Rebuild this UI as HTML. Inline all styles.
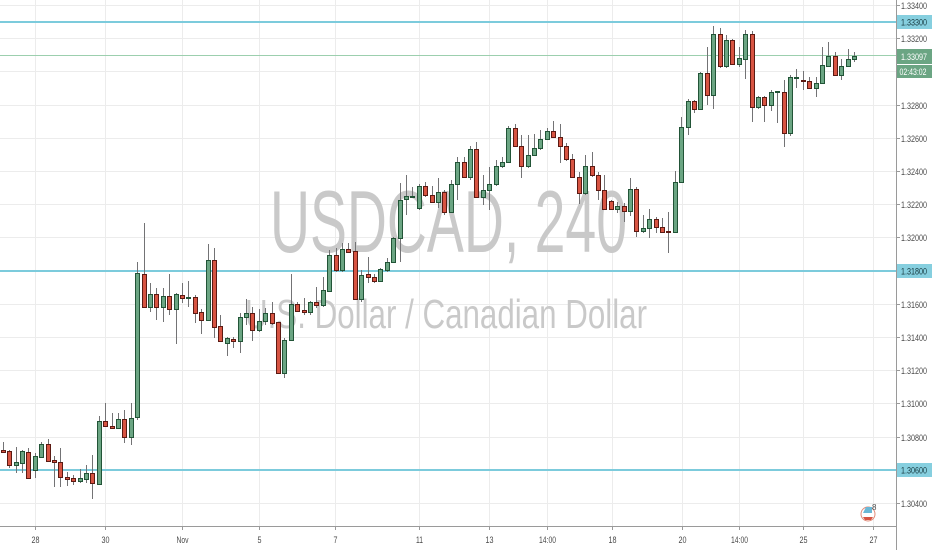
<!DOCTYPE html>
<html><head><meta charset="utf-8"><style>
html,body{margin:0;padding:0;background:#fff;}
svg{display:block;}
.pl{font-family:"Liberation Sans",sans-serif;font-size:9.5px;fill:#4a4a4a;}
.bl{font-family:"Liberation Sans",sans-serif;font-size:9.5px;fill:#4a4a4a;}
</style></head><body>
<svg width="932" height="550" viewBox="0 0 932 550" xmlns="http://www.w3.org/2000/svg">
<rect width="932" height="550" fill="#fff"/>
<g stroke="#ececec" stroke-width="1">
<line x1="0" x2="896" y1="5.5" y2="5.5"/><line x1="0" x2="896" y1="38.5" y2="38.5"/><line x1="0" x2="896" y1="71.5" y2="71.5"/><line x1="0" x2="896" y1="105.5" y2="105.5"/><line x1="0" x2="896" y1="138.5" y2="138.5"/><line x1="0" x2="896" y1="171.5" y2="171.5"/><line x1="0" x2="896" y1="204.5" y2="204.5"/><line x1="0" x2="896" y1="237.5" y2="237.5"/><line x1="0" x2="896" y1="271.5" y2="271.5"/><line x1="0" x2="896" y1="304.5" y2="304.5"/><line x1="0" x2="896" y1="337.5" y2="337.5"/><line x1="0" x2="896" y1="370.5" y2="370.5"/><line x1="0" x2="896" y1="403.5" y2="403.5"/><line x1="0" x2="896" y1="437.5" y2="437.5"/><line x1="0" x2="896" y1="470.5" y2="470.5"/><line x1="0" x2="896" y1="503.5" y2="503.5"/>
<line y1="0" y2="526" x1="35.5" x2="35.5"/><line y1="0" y2="526" x1="105.5" x2="105.5"/><line y1="0" y2="526" x1="182.5" x2="182.5"/><line y1="0" y2="526" x1="259.5" x2="259.5"/><line y1="0" y2="526" x1="335.5" x2="335.5"/><line y1="0" y2="526" x1="419.5" x2="419.5"/><line y1="0" y2="526" x1="489.5" x2="489.5"/><line y1="0" y2="526" x1="547.5" x2="547.5"/><line y1="0" y2="526" x1="612.5" x2="612.5"/><line y1="0" y2="526" x1="682.5" x2="682.5"/><line y1="0" y2="526" x1="739.5" x2="739.5"/><line y1="0" y2="526" x1="803.5" x2="803.5"/><line y1="0" y2="526" x1="873.5" x2="873.5"/>
</g>
<g font-family="Liberation Sans, sans-serif" fill="#c9c9c9">
<text x="270" y="252" font-size="88" textLength="357" lengthAdjust="spacingAndGlyphs">USDCAD, 240</text>
<text x="245" y="328" font-size="41" textLength="402" lengthAdjust="spacingAndGlyphs">U.S. Dollar / Canadian Dollar</text>
</g>
<line x1="0" x2="896" y1="55.5" y2="55.5" stroke="#9ccfae" stroke-width="1"/>
<g stroke="#7ccbdc" stroke-width="2">
<line x1="0" x2="896" y1="22" y2="22"/>
<line x1="0" x2="896" y1="271" y2="271"/>
<line x1="0" x2="896" y1="470" y2="470"/>
</g>
<g id="candles" stroke-width="1">
<g stroke="#737375">
<line x1="3.5" x2="3.5" y1="442" y2="453"/><line x1="9.5" x2="9.5" y1="450" y2="468"/><line x1="16.5" x2="16.5" y1="447" y2="473"/><line x1="22.5" x2="22.5" y1="450" y2="473"/><line x1="28.5" x2="28.5" y1="448" y2="478"/><line x1="35.5" x2="35.5" y1="453" y2="478"/><line x1="41.5" x2="41.5" y1="442" y2="458"/><line x1="48.5" x2="48.5" y1="439" y2="462"/><line x1="54.5" x2="54.5" y1="456" y2="487"/><line x1="60.5" x2="60.5" y1="448" y2="487"/><line x1="67.5" x2="67.5" y1="472" y2="486"/><line x1="73.5" x2="73.5" y1="475" y2="485"/><line x1="80.5" x2="80.5" y1="469" y2="483"/><line x1="86.5" x2="86.5" y1="465" y2="483"/><line x1="92.5" x2="92.5" y1="455" y2="499"/><line x1="99.5" x2="99.5" y1="416" y2="484"/><line x1="105.5" x2="105.5" y1="403" y2="427"/><line x1="112.5" x2="112.5" y1="413" y2="428"/><line x1="118.5" x2="118.5" y1="413" y2="429"/><line x1="124.5" x2="124.5" y1="410" y2="443"/><line x1="131.5" x2="131.5" y1="403" y2="445"/><line x1="137.5" x2="137.5" y1="262" y2="420"/><line x1="144.5" x2="144.5" y1="223" y2="307"/><line x1="150.5" x2="150.5" y1="283" y2="312"/><line x1="156.5" x2="156.5" y1="288" y2="320"/><line x1="163.5" x2="163.5" y1="288" y2="322"/><line x1="169.5" x2="169.5" y1="274" y2="315"/><line x1="176.5" x2="176.5" y1="293" y2="344"/><line x1="182.5" x2="182.5" y1="283" y2="303"/><line x1="188.5" x2="188.5" y1="281" y2="307"/><line x1="195.5" x2="195.5" y1="295" y2="323"/><line x1="201.5" x2="201.5" y1="309" y2="334"/><line x1="208.5" x2="208.5" y1="244" y2="320"/><line x1="214.5" x2="214.5" y1="248" y2="338"/><line x1="220.5" x2="220.5" y1="315" y2="341"/><line x1="227.5" x2="227.5" y1="337" y2="356"/><line x1="233.5" x2="233.5" y1="337" y2="348"/><line x1="240.5" x2="240.5" y1="313" y2="353"/><line x1="246.5" x2="246.5" y1="299" y2="325"/><line x1="252.5" x2="252.5" y1="307" y2="341"/><line x1="259.5" x2="259.5" y1="309" y2="332"/><line x1="265.5" x2="265.5" y1="308" y2="325"/><line x1="272.5" x2="272.5" y1="302" y2="325"/><line x1="278.5" x2="278.5" y1="322" y2="373"/><line x1="284.5" x2="284.5" y1="338" y2="378"/><line x1="291.5" x2="291.5" y1="274" y2="340"/><line x1="297.5" x2="297.5" y1="302" y2="312"/><line x1="304.5" x2="304.5" y1="298" y2="315"/><line x1="310.5" x2="310.5" y1="301" y2="315"/><line x1="316.5" x2="316.5" y1="287" y2="308"/><line x1="323.5" x2="323.5" y1="277" y2="307"/><line x1="329.5" x2="329.5" y1="250" y2="291"/><line x1="336.5" x2="336.5" y1="248" y2="272"/><line x1="342.5" x2="342.5" y1="243" y2="272"/><line x1="348.5" x2="348.5" y1="243" y2="253"/><line x1="355.5" x2="355.5" y1="242" y2="299"/><line x1="361.5" x2="361.5" y1="270" y2="302"/><line x1="368.5" x2="368.5" y1="257" y2="283"/><line x1="374.5" x2="374.5" y1="274" y2="283"/><line x1="380.5" x2="380.5" y1="268" y2="282"/><line x1="387.5" x2="387.5" y1="258" y2="272"/><line x1="393.5" x2="393.5" y1="237" y2="263"/><line x1="400.5" x2="400.5" y1="183" y2="262"/><line x1="406.5" x2="406.5" y1="175" y2="215"/><line x1="412.5" x2="412.5" y1="187" y2="198"/><line x1="419.5" x2="419.5" y1="184" y2="210"/><line x1="425.5" x2="425.5" y1="182" y2="197"/><line x1="432.5" x2="432.5" y1="186" y2="203"/><line x1="438.5" x2="438.5" y1="178" y2="208"/><line x1="444.5" x2="444.5" y1="190" y2="215"/><line x1="451.5" x2="451.5" y1="180" y2="213"/><line x1="457.5" x2="457.5" y1="157" y2="200"/><line x1="464.5" x2="464.5" y1="157" y2="178"/><line x1="470.5" x2="470.5" y1="146" y2="180"/><line x1="476.5" x2="476.5" y1="142" y2="197"/><line x1="483.5" x2="483.5" y1="175" y2="205"/><line x1="489.5" x2="489.5" y1="167" y2="210"/><line x1="496.5" x2="496.5" y1="160" y2="186"/><line x1="502.5" x2="502.5" y1="157" y2="168"/><line x1="508.5" x2="508.5" y1="126" y2="163"/><line x1="515.5" x2="515.5" y1="124" y2="147"/><line x1="521.5" x2="521.5" y1="135" y2="178"/><line x1="528.5" x2="528.5" y1="135" y2="168"/><line x1="534.5" x2="534.5" y1="134" y2="156"/><line x1="540.5" x2="540.5" y1="130" y2="150"/><line x1="547.5" x2="547.5" y1="128" y2="140"/><line x1="553.5" x2="553.5" y1="121" y2="138"/><line x1="560.5" x2="560.5" y1="124" y2="163"/><line x1="566.5" x2="566.5" y1="143" y2="161"/><line x1="572.5" x2="572.5" y1="154" y2="178"/><line x1="579.5" x2="579.5" y1="172" y2="204"/><line x1="585.5" x2="585.5" y1="155" y2="195"/><line x1="592.5" x2="592.5" y1="152" y2="177"/><line x1="598.5" x2="598.5" y1="172" y2="200"/><line x1="604.5" x2="604.5" y1="175" y2="210"/><line x1="611.5" x2="611.5" y1="200" y2="210"/><line x1="617.5" x2="617.5" y1="202" y2="213"/><line x1="624.5" x2="624.5" y1="203" y2="222"/><line x1="630.5" x2="630.5" y1="178" y2="216"/><line x1="636.5" x2="636.5" y1="187" y2="237"/><line x1="643.5" x2="643.5" y1="215" y2="233"/><line x1="649.5" x2="649.5" y1="209" y2="238"/><line x1="656.5" x2="656.5" y1="217" y2="233"/><line x1="662.5" x2="662.5" y1="218" y2="233"/><line x1="668.5" x2="668.5" y1="212" y2="253"/><line x1="675.5" x2="675.5" y1="171" y2="233"/><line x1="681.5" x2="681.5" y1="117" y2="182"/><line x1="688.5" x2="688.5" y1="99" y2="135"/><line x1="694.5" x2="694.5" y1="100" y2="113"/><line x1="700.5" x2="700.5" y1="72" y2="110"/><line x1="707.5" x2="707.5" y1="47" y2="105"/><line x1="713.5" x2="713.5" y1="26" y2="109"/><line x1="720.5" x2="720.5" y1="28" y2="68"/><line x1="726.5" x2="726.5" y1="35" y2="68"/><line x1="732.5" x2="732.5" y1="39" y2="65"/><line x1="739.5" x2="739.5" y1="47" y2="67"/><line x1="745.5" x2="745.5" y1="30" y2="79"/><line x1="752.5" x2="752.5" y1="31" y2="122"/><line x1="758.5" x2="758.5" y1="96" y2="109"/><line x1="764.5" x2="764.5" y1="96" y2="122"/><line x1="771.5" x2="771.5" y1="90" y2="111"/><line x1="777.5" x2="777.5" y1="91" y2="123"/><line x1="784.5" x2="784.5" y1="80" y2="147"/><line x1="790.5" x2="790.5" y1="75" y2="136"/><line x1="796.5" x2="796.5" y1="69" y2="88"/><line x1="803.5" x2="803.5" y1="71" y2="90"/><line x1="809.5" x2="809.5" y1="77" y2="89"/><line x1="816.5" x2="816.5" y1="77" y2="97"/><line x1="822.5" x2="822.5" y1="47" y2="84"/><line x1="828.5" x2="828.5" y1="42" y2="67"/><line x1="835.5" x2="835.5" y1="52" y2="76"/><line x1="841.5" x2="841.5" y1="59" y2="80"/><line x1="848.5" x2="848.5" y1="49" y2="67"/><line x1="854.5" x2="854.5" y1="52" y2="62"/>
</g>
<g fill="#d75442" stroke="#5b1a13">
<rect x="1.5" y="450.5" width="4" height="2"/><rect x="7.5" y="451.5" width="4" height="14"/><rect x="26.5" y="452.5" width="4" height="26"/><rect x="46.5" y="444.5" width="4" height="17"/><rect x="52.5" y="460.5" width="4" height="2"/><rect x="58.5" y="462.5" width="4" height="15"/><rect x="65.5" y="477.5" width="4" height="2"/><rect x="71.5" y="478.5" width="4" height="3"/><rect x="90.5" y="473.5" width="4" height="10"/><rect x="103.5" y="421.5" width="4" height="5"/><rect x="110.5" y="426.5" width="4" height="2"/><rect x="122.5" y="419.5" width="4" height="18"/><rect x="142.5" y="274.5" width="4" height="33"/><rect x="154.5" y="294.5" width="4" height="13"/><rect x="167.5" y="296.5" width="4" height="13"/><rect x="180.5" y="295.5" width="4" height="3"/><rect x="193.5" y="297.5" width="4" height="16"/><rect x="199.5" y="312.5" width="4" height="8"/><rect x="212.5" y="260.5" width="4" height="67"/><rect x="218.5" y="326.5" width="4" height="15"/><rect x="231.5" y="339.5" width="4" height="2"/><rect x="250.5" y="313.5" width="4" height="17"/><rect x="270.5" y="313.5" width="4" height="10"/><rect x="276.5" y="322.5" width="4" height="51"/><rect x="295.5" y="304.5" width="4" height="7"/><rect x="302.5" y="310.5" width="4" height="2"/><rect x="314.5" y="302.5" width="4" height="3"/><rect x="334.5" y="255.5" width="4" height="15"/><rect x="346.5" y="249.5" width="4" height="3"/><rect x="353.5" y="251.5" width="4" height="48"/><rect x="366.5" y="274.5" width="4" height="3"/><rect x="372.5" y="277.5" width="4" height="4"/><rect x="423.5" y="186.5" width="4" height="9"/><rect x="430.5" y="195.5" width="4" height="7"/><rect x="442.5" y="192.5" width="4" height="20"/><rect x="462.5" y="162.5" width="4" height="15"/><rect x="474.5" y="149.5" width="4" height="48"/><rect x="513.5" y="128.5" width="4" height="18"/><rect x="519.5" y="146.5" width="4" height="20"/><rect x="551.5" y="131.5" width="4" height="6"/><rect x="558.5" y="137.5" width="4" height="9"/><rect x="564.5" y="146.5" width="4" height="13"/><rect x="570.5" y="159.5" width="4" height="18"/><rect x="577.5" y="177.5" width="4" height="16"/><rect x="590.5" y="166.5" width="4" height="9"/><rect x="596.5" y="175.5" width="4" height="15"/><rect x="602.5" y="190.5" width="4" height="19"/><rect x="609.5" y="201.5" width="4" height="8"/><rect x="622.5" y="206.5" width="4" height="5"/><rect x="634.5" y="189.5" width="4" height="42"/><rect x="654.5" y="219.5" width="4" height="8"/><rect x="660.5" y="227.5" width="4" height="5"/><rect x="666.5" y="231.5" width="4" height="1"/><rect x="692.5" y="101.5" width="4" height="8"/><rect x="705.5" y="73.5" width="4" height="22"/><rect x="718.5" y="34.5" width="4" height="32"/><rect x="730.5" y="40.5" width="4" height="24"/><rect x="750.5" y="34.5" width="4" height="73"/><rect x="762.5" y="97.5" width="4" height="8"/><rect x="782.5" y="92.5" width="4" height="41"/><rect x="801.5" y="80.5" width="4" height="1"/><rect x="807.5" y="81.5" width="4" height="7"/><rect x="833.5" y="56.5" width="4" height="19"/>
</g>
<g fill="#6ba583" stroke="#225437">
<rect x="14.5" y="462.5" width="4" height="3"/><rect x="20.5" y="451.5" width="4" height="12"/><rect x="33.5" y="456.5" width="4" height="14"/><rect x="39.5" y="444.5" width="4" height="13"/><rect x="78.5" y="478.5" width="4" height="3"/><rect x="84.5" y="473.5" width="4" height="6"/><rect x="97.5" y="421.5" width="4" height="63"/><rect x="116.5" y="419.5" width="4" height="9"/><rect x="129.5" y="418.5" width="4" height="19"/><rect x="135.5" y="273.5" width="4" height="144"/><rect x="148.5" y="294.5" width="4" height="13"/><rect x="161.5" y="296.5" width="4" height="11"/><rect x="174.5" y="294.5" width="4" height="15"/><rect x="186.5" y="297.5" width="4" height="1"/><rect x="206.5" y="260.5" width="4" height="60"/><rect x="225.5" y="338.5" width="4" height="5"/><rect x="238.5" y="317.5" width="4" height="24"/><rect x="244.5" y="313.5" width="4" height="4"/><rect x="257.5" y="321.5" width="4" height="9"/><rect x="263.5" y="313.5" width="4" height="8"/><rect x="282.5" y="340.5" width="4" height="33"/><rect x="289.5" y="304.5" width="4" height="36"/><rect x="308.5" y="302.5" width="4" height="10"/><rect x="321.5" y="290.5" width="4" height="15"/><rect x="327.5" y="255.5" width="4" height="36"/><rect x="340.5" y="249.5" width="4" height="21"/><rect x="359.5" y="275.5" width="4" height="24"/><rect x="378.5" y="269.5" width="4" height="12"/><rect x="385.5" y="262.5" width="4" height="8"/><rect x="391.5" y="238.5" width="4" height="24"/><rect x="398.5" y="200.5" width="4" height="38"/><rect x="404.5" y="196.5" width="4" height="3"/><rect x="410.5" y="196.5" width="4" height="1"/><rect x="417.5" y="186.5" width="4" height="22"/><rect x="436.5" y="192.5" width="4" height="10"/><rect x="449.5" y="184.5" width="4" height="28"/><rect x="455.5" y="162.5" width="4" height="22"/><rect x="468.5" y="149.5" width="4" height="28"/><rect x="481.5" y="190.5" width="4" height="7"/><rect x="487.5" y="184.5" width="4" height="6"/><rect x="494.5" y="166.5" width="4" height="18"/><rect x="500.5" y="162.5" width="4" height="4"/><rect x="506.5" y="128.5" width="4" height="34"/><rect x="526.5" y="155.5" width="4" height="11"/><rect x="532.5" y="148.5" width="4" height="7"/><rect x="538.5" y="139.5" width="4" height="9"/><rect x="545.5" y="131.5" width="4" height="8"/><rect x="583.5" y="166.5" width="4" height="27"/><rect x="615.5" y="206.5" width="4" height="3"/><rect x="628.5" y="189.5" width="4" height="22"/><rect x="641.5" y="228.5" width="4" height="3"/><rect x="647.5" y="219.5" width="4" height="9"/><rect x="673.5" y="182.5" width="4" height="50"/><rect x="679.5" y="127.5" width="4" height="55"/><rect x="686.5" y="101.5" width="4" height="26"/><rect x="698.5" y="73.5" width="4" height="36"/><rect x="711.5" y="34.5" width="4" height="61"/><rect x="724.5" y="40.5" width="4" height="26"/><rect x="737.5" y="58.5" width="4" height="6"/><rect x="743.5" y="34.5" width="4" height="25"/><rect x="756.5" y="97.5" width="4" height="10"/><rect x="769.5" y="92.5" width="4" height="13"/><rect x="775.5" y="91.5" width="4" height="1"/><rect x="788.5" y="77.5" width="4" height="56"/><rect x="794.5" y="77.5" width="4" height="1"/><rect x="814.5" y="83.5" width="4" height="5"/><rect x="820.5" y="65.5" width="4" height="18"/><rect x="826.5" y="56.5" width="4" height="10"/><rect x="839.5" y="66.5" width="4" height="9"/><rect x="846.5" y="59.5" width="4" height="7"/><rect x="852.5" y="56.5" width="4" height="3"/>
</g>
</g>
<line x1="0" x2="896" y1="526.5" y2="526.5" stroke="#9a9a9a" stroke-width="1"/>
<line x1="896.5" x2="896.5" y1="0" y2="550" stroke="#9a9a9a" stroke-width="1"/>
<g stroke="#9a9a9a" stroke-width="1">
<line x1="896" x2="900" y1="5.5" y2="5.5"/><line x1="896" x2="900" y1="38.5" y2="38.5"/><line x1="896" x2="900" y1="105.5" y2="105.5"/><line x1="896" x2="900" y1="138.5" y2="138.5"/><line x1="896" x2="900" y1="171.5" y2="171.5"/><line x1="896" x2="900" y1="204.5" y2="204.5"/><line x1="896" x2="900" y1="237.5" y2="237.5"/><line x1="896" x2="900" y1="304.5" y2="304.5"/><line x1="896" x2="900" y1="337.5" y2="337.5"/><line x1="896" x2="900" y1="370.5" y2="370.5"/><line x1="896" x2="900" y1="403.5" y2="403.5"/><line x1="896" x2="900" y1="437.5" y2="437.5"/><line x1="896" x2="900" y1="503.5" y2="503.5"/>
<line y1="526" y2="530" x1="35.5" x2="35.5"/><line y1="526" y2="530" x1="105.5" x2="105.5"/><line y1="526" y2="530" x1="182.5" x2="182.5"/><line y1="526" y2="530" x1="259.5" x2="259.5"/><line y1="526" y2="530" x1="335.5" x2="335.5"/><line y1="526" y2="530" x1="419.5" x2="419.5"/><line y1="526" y2="530" x1="489.5" x2="489.5"/><line y1="526" y2="530" x1="547.5" x2="547.5"/><line y1="526" y2="530" x1="612.5" x2="612.5"/><line y1="526" y2="530" x1="682.5" x2="682.5"/><line y1="526" y2="530" x1="739.5" x2="739.5"/><line y1="526" y2="530" x1="803.5" x2="803.5"/><line y1="526" y2="530" x1="873.5" x2="873.5"/>
</g>
<g class="pl">
<text x="901" y="9" textLength="26" lengthAdjust="spacingAndGlyphs">1.33400</text>
<text x="901" y="42" textLength="26" lengthAdjust="spacingAndGlyphs">1.33200</text>
<text x="901" y="109" textLength="26" lengthAdjust="spacingAndGlyphs">1.32800</text>
<text x="901" y="142" textLength="26" lengthAdjust="spacingAndGlyphs">1.32600</text>
<text x="901" y="175" textLength="26" lengthAdjust="spacingAndGlyphs">1.32400</text>
<text x="901" y="208" textLength="26" lengthAdjust="spacingAndGlyphs">1.32200</text>
<text x="901" y="241" textLength="26" lengthAdjust="spacingAndGlyphs">1.32000</text>
<text x="901" y="308" textLength="26" lengthAdjust="spacingAndGlyphs">1.31600</text>
<text x="901" y="341" textLength="26" lengthAdjust="spacingAndGlyphs">1.31400</text>
<text x="901" y="374" textLength="26" lengthAdjust="spacingAndGlyphs">1.31200</text>
<text x="901" y="407" textLength="26" lengthAdjust="spacingAndGlyphs">1.31000</text>
<text x="901" y="441" textLength="26" lengthAdjust="spacingAndGlyphs">1.30800</text>
<text x="901" y="507" textLength="26" lengthAdjust="spacingAndGlyphs">1.30400</text>
</g>
<rect x="897" y="15" width="35" height="14" fill="#86cfdf"/>
<rect x="897" y="264" width="35" height="14" fill="#86cfdf"/>
<rect x="897" y="463" width="35" height="14" fill="#86cfdf"/>
<rect x="897" y="49" width="35" height="15" fill="#6ba583"/>
<rect x="897" y="65" width="35" height="13" fill="#6ba583"/>
<g class="pl" style="fill:#16393f">
<text x="901" y="25.5" textLength="26" lengthAdjust="spacingAndGlyphs">1.33300</text>
<text x="901" y="274.5" textLength="26" lengthAdjust="spacingAndGlyphs">1.31800</text>
<text x="901" y="473.5" textLength="26" lengthAdjust="spacingAndGlyphs">1.30600</text>
</g>
<g class="pl" style="fill:#ffffff">
<text x="901" y="60" textLength="26" lengthAdjust="spacingAndGlyphs">1.33097</text>
<text x="899.5" y="75" textLength="27" lengthAdjust="spacingAndGlyphs">02:43:02</text>
</g>
<g class="bl" text-anchor="middle">
<text x="35.5" y="543" textLength="8" lengthAdjust="spacingAndGlyphs">28</text>
<text x="105.5" y="543" textLength="8" lengthAdjust="spacingAndGlyphs">30</text>
<text x="182.5" y="543" textLength="12" lengthAdjust="spacingAndGlyphs">Nov</text>
<text x="259.5" y="543" textLength="4" lengthAdjust="spacingAndGlyphs">5</text>
<text x="335.5" y="543" textLength="4" lengthAdjust="spacingAndGlyphs">7</text>
<text x="419.5" y="543" textLength="7" lengthAdjust="spacingAndGlyphs">11</text>
<text x="489.5" y="543" textLength="8" lengthAdjust="spacingAndGlyphs">13</text>
<text x="547.5" y="543" textLength="17" lengthAdjust="spacingAndGlyphs">14:00</text>
<text x="612.5" y="543" textLength="8" lengthAdjust="spacingAndGlyphs">18</text>
<text x="682.5" y="543" textLength="8" lengthAdjust="spacingAndGlyphs">20</text>
<text x="739.5" y="543" textLength="17" lengthAdjust="spacingAndGlyphs">14:00</text>
<text x="803.5" y="543" textLength="8" lengthAdjust="spacingAndGlyphs">25</text>
<text x="873.5" y="543" textLength="8" lengthAdjust="spacingAndGlyphs">27</text>
</g>
<g>
<circle cx="868" cy="514" r="7" fill="#fff" stroke="#e08a78" stroke-width="1"/>
<path d="M863 513 L866 507 L872 507 L872 513 Z" fill="#6ab8d6"/>
<rect x="863" y="514" width="10" height="2" fill="#fff"/>
<path d="M863 517 L873 517 L871 520 L865 520 Z" fill="#d75442"/>
<text x="872" y="510" font-family="Liberation Sans, sans-serif" font-size="8" fill="#4a4a4a">8</text>
</g>
</svg>
</body></html>
